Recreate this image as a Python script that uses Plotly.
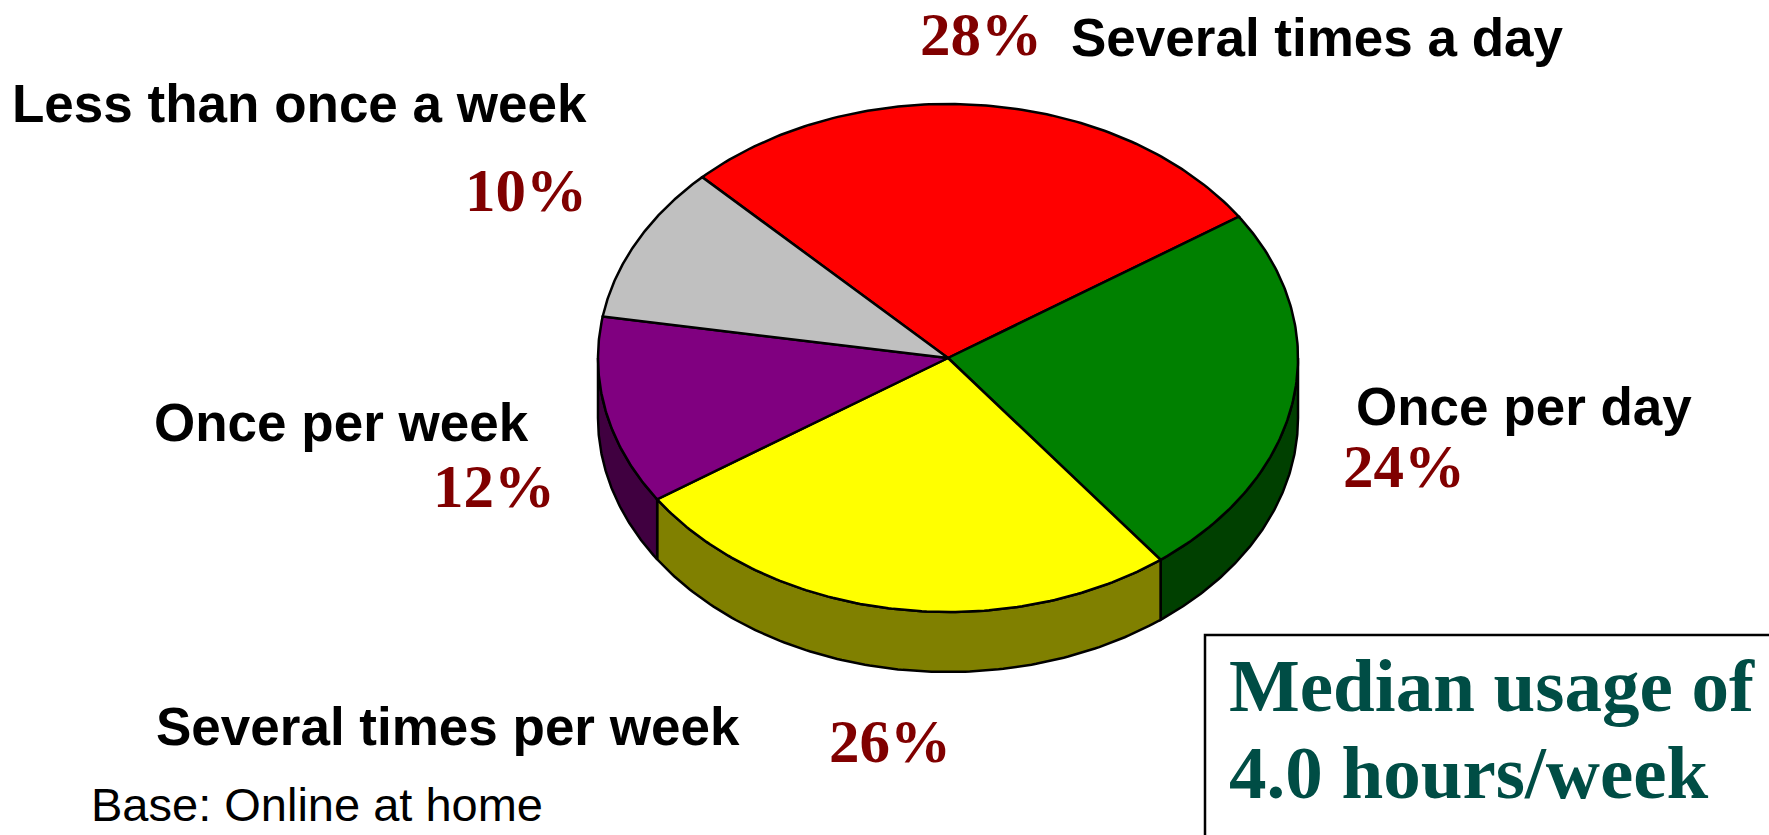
import numpy as np
import plotly.graph_objects as go

# ---- data ----
categories = ["Several times a day", "Once per day", "Several times per week",
              "Once per week", "Less than once a week"]
values = [28, 24, 26, 12, 10]
pct_labels = ["28%", "24%", "26%", "12%", "10%"]
top_colors = ["#FF0000", "#008000", "#FFFF00", "#800080", "#C0C0C0"]
side_colors = ["#800000", "#004000", "#808000", "#400040", "#606060"]
note_lines = ["Median usage of", "4.0 hours/week"]
base_note = "Base: Online at home"

# ---- geometry (layout, in pixel-like axis units) ----
W, H = 1769, 835
cx, cy = 948, 358
rx, ry = 350, 254
depth = 60
start_angle = 134.6  # degrees, slices run clockwise

def arc(t0, t1, yoff=0.0, n=120):
    t = np.radians(np.linspace(t0, t1, n))
    return cx + rx * np.cos(t), cy + yoff - ry * np.sin(t)

fig = go.Figure()

total = float(sum(values))
bounds = []
cum = 0.0
for v in values:
    t_start = start_angle - 360.0 * cum / total
    t_end = t_start - 360.0 * v / total
    bounds.append((t_start, t_end))
    cum += v

# side walls (visible front half: sin t < 0)
for (t_start, t_end), col, name in zip(bounds, side_colors, categories):
    for k in range(-2, 3):
        lo, hi = -180.0 - 360.0 * k, 0.0 - 360.0 * k
        a = min(t_start, hi)
        b = max(t_end, lo)
        if a > b:
            xt, yt = arc(a, b)
            xb, yb = arc(b, a, yoff=depth)
            xs = np.concatenate([xt, xb, xt[:1]])
            ys = np.concatenate([yt, yb, yt[:1]])
            fig.add_trace(go.Scatter(x=xs, y=ys, mode="lines", fill="toself",
                                     fillcolor=col, line=dict(color="black", width=2.5),
                                     hoverinfo="text", text=name, showlegend=False))

# top faces
for (t_start, t_end), col, name, v in zip(bounds, top_colors, categories, values):
    xa, ya = arc(t_start, t_end)
    xs = np.concatenate([[cx], xa, [cx]])
    ys = np.concatenate([[cy], ya, [cy]])
    fig.add_trace(go.Scatter(x=xs, y=ys, mode="lines", fill="toself",
                             fillcolor=col, line=dict(color="black", width=2.5),
                             hoverinfo="text", text=f"{name}: {v}%", showlegend=False))

sans = "Liberation Sans, Arial, sans-serif"
serif = "Liberation Serif, Times New Roman, serif"
lab_font = dict(family=sans, size=53, color="black")
pct_font = dict(family=serif, size=61, color="#800000")

# label placement (x, y, anchor) for each category name and percentage
name_pos = [(1069, 37, "left"), (1694, 406, "right"), (742, 726, "right"),
            (531, 422, "right"), (589, 103, "right")]
pct_pos = [(1044, 34, "right"), (1467, 466, "right"), (953, 741, "right"),
           (557, 486, "right"), (589, 190, "right")]

anns = []
for name, (x, y, xa) in zip(categories, name_pos):
    anns.append(dict(x=x, y=y, xref="x", yref="y", text=f"<b>{name}</b>",
                     showarrow=False, xanchor=xa, yanchor="middle", font=lab_font))
for p, (x, y, xa) in zip(pct_labels, pct_pos):
    anns.append(dict(x=x, y=y, xref="x", yref="y", text=f"<b>{p}</b>",
                     showarrow=False, xanchor=xa, yanchor="middle", font=pct_font))

anns.append(dict(x=89, y=804, xref="x", yref="y", text=base_note, showarrow=False,
                 xanchor="left", yanchor="middle",
                 font=dict(family=sans, size=47, color="black")))
for i, line in enumerate(note_lines):
    anns.append(dict(x=1227, y=685 + 87 * i, xref="x", yref="y", text=f"<b>{line}</b>",
                     showarrow=False, xanchor="left", yanchor="middle",
                     font=dict(family=serif, size=75, color="#004D45")))

fig.add_shape(type="rect", xref="x", yref="y", x0=1205, y0=635, x1=W + 20, y1=H + 20,
              line=dict(color="black", width=2.5), fillcolor="rgba(0,0,0,0)", layer="below")

fig.update_layout(
    width=W, height=H, autosize=False,
    margin=dict(l=0, r=0, t=0, b=0),
    paper_bgcolor="white", plot_bgcolor="white",
    xaxis=dict(range=[0, W], visible=False, fixedrange=True),
    yaxis=dict(range=[H, 0], visible=False, fixedrange=True),
    annotations=anns, showlegend=False,
)

fig.write_html("out.html", config={"displayModeBar": False},
               post_script="document.body.style.margin='0';document.body.style.overflow='hidden';")
